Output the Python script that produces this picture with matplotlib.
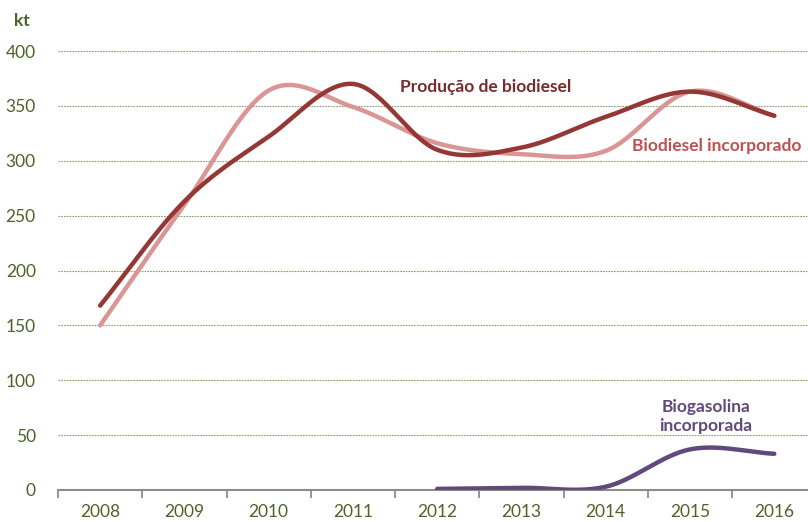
import numpy as np
import matplotlib.pyplot as plt
from matplotlib.ticker import FixedLocator, NullFormatter

plt.rcParams["font.family"] = ["Lato", "DejaVu Sans"]

anos = ['2008', '2009', '2010', '2011', '2012', '2013', '2014', '2015', '2016']
producao = [168, 263, 322, 370, 310, 312, 340, 363, 341]
incorporado = [150, 260, 364, 349, 316, 306, 309, 363, 341]
anos_gas = ['2012', '2013', '2014', '2015', '2016']
biogasolina = [1, 2, 3, 37, 33]


def suave(xs, ys, n=40):
    # catmull-rom, roughly what excel does for smoothed lines
    xs = np.asarray(xs, float)
    ys = np.asarray(ys, float)
    px = np.concatenate([[2 * xs[0] - xs[1]], xs, [2 * xs[-1] - xs[-2]]])
    py = np.concatenate([[2 * ys[0] - ys[1]], ys, [2 * ys[-1] - ys[-2]]])
    ox, oy = [], []
    t = np.linspace(0, 1, n)
    for i in range(1, len(px) - 2):
        for p, o in ((px, ox), (py, oy)):
            p0, p1, p2, p3 = p[i - 1], p[i], p[i + 1], p[i + 2]
            o.extend(0.5 * (2 * p1 + (-p0 + p2) * t
                            + (2 * p0 - 5 * p1 + 4 * p2 - p3) * t ** 2
                            + (-p0 + 3 * p1 - 3 * p2 + p3) * t ** 3))
    return np.array(ox), np.array(oy)


fig = plt.figure(figsize=(8.08, 5.22), dpi=100)
ax = fig.add_axes([58 / 808, 32 / 522, 750 / 808, (490 - 51) / 522])

x = np.arange(len(anos))
xg = np.array([anos.index(a) for a in anos_gas])

sx, sy = suave(x, incorporado)
ax.plot(sx, sy, color='#DA9694', lw=3.2, solid_capstyle='round', zorder=3)
sx, sy = suave(x, producao)
ax.plot(sx, sy, color='#953735', lw=3.2, solid_capstyle='round', zorder=4)
sx, sy = suave(xg, biogasolina)
ax.plot(sx, sy, color='#604A7B', lw=3.2, solid_capstyle='round', zorder=4)

ax.set_xlim(-0.5, 8.40)
ax.set_ylim(0, 400)
ax.set_yticks(range(0, 401, 50))
for v in range(50, 401, 50):
    ax.axhline(v, color='#8E9B6C', lw=0.8, ls=(0, (1.5, 1)), zorder=1)

ax.set_xticks(x)
ax.set_xticklabels(anos)
ax.xaxis.set_minor_locator(FixedLocator(np.arange(-0.5, 9, 1)))
ax.xaxis.set_minor_formatter(NullFormatter())
ax.tick_params(axis='x', which='major', length=0, pad=10, labelsize=12.5, labelcolor='#4F6228')
ax.tick_params(axis='x', which='minor', length=6, width=1.3, color='#8C8C8C', direction='out')
ax.tick_params(axis='y', length=0, pad=16, labelsize=12.5, labelcolor='#4F6228')

for s in ['top', 'right', 'left']:
    ax.spines[s].set_visible(False)
ax.spines['bottom'].set_color('#8C8C8C')
ax.spines['bottom'].set_linewidth(1.5)

fig.text(14 / 808, 1 - 21 / 522, 'kt', fontsize=12.5, fontweight='bold', color='#4F6228', va='center')
ax.text(3.56, 367, 'Produção de biodiesel', fontsize=12.5, fontweight='bold', color='#772C2A', va='center')
ax.text(6.31, 313, 'Biodiesel incorporado', fontsize=12.5, fontweight='bold', color='#C0504D', va='center')
ax.text(7.19, 67, 'Biogasolina\nincorporada', fontsize=12.5, fontweight='bold', color='#604A7B',
        ha='center', va='center', linespacing=1.3)

fig.savefig('out.png', dpi=100)
